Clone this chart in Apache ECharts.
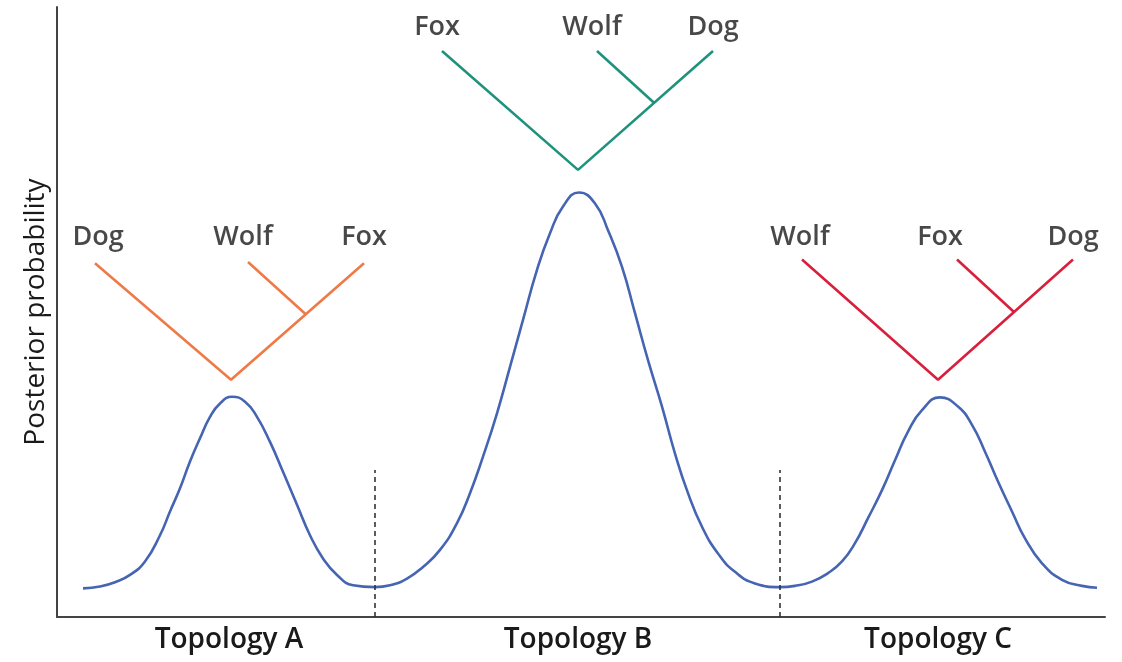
<!DOCTYPE html>
<html><head>
<meta charset="UTF-8">
<title>Posterior probability of topologies</title>
<script src="https://cdn.jsdelivr.net/npm/echarts@6/dist/echarts.min.js"></script>
<style>
html,body{margin:0;padding:0;background:#fff;}
#chart{width:1122px;height:662px;}
</style>
</head>
<body>
<div id="chart"></div>
<script type="text/javascript">
// posterior curve (x: parameter space, y: probability)
var curveX = [0.26, 0.43, 0.58, 0.73, 0.88, 1.03, 1.13, 1.23, 1.33, 1.43, 1.53, 1.63, 1.75, 1.88, 2.00, 2.13, 2.26, 2.40, 2.53, 2.66, 2.80, 2.96,
              3.18, 3.33, 3.50, 3.66, 3.83, 4.00, 4.13, 4.26, 4.40, 4.53, 4.66, 4.80, 4.93, 5.06, 5.22, 5.38, 5.51, 5.65, 5.78, 5.91, 6.05, 6.18, 6.31, 6.45, 6.61, 6.78, 6.98,
              7.23, 7.38, 7.55, 7.71, 7.85, 7.98, 8.11, 8.25, 8.38, 8.51, 8.65, 8.83, 9.01, 9.15, 9.28, 9.41, 9.55, 9.68, 9.85, 10.05, 10.25, 10.40];
var curveY = [0.047, 0.050, 0.057, 0.069, 0.091, 0.134, 0.173, 0.211, 0.255, 0.293, 0.328, 0.350, 0.361, 0.353, 0.328, 0.287, 0.238, 0.184, 0.134, 0.096, 0.069, 0.052,
              0.049, 0.052, 0.063, 0.082, 0.110, 0.154, 0.203, 0.263, 0.334, 0.410, 0.487, 0.569, 0.629, 0.673, 0.696, 0.678, 0.634, 0.574, 0.498, 0.421, 0.345, 0.268, 0.203, 0.148, 0.104, 0.074, 0.055,
              0.049, 0.051, 0.058, 0.072, 0.091, 0.121, 0.162, 0.208, 0.257, 0.304, 0.339, 0.360, 0.345, 0.315, 0.271, 0.222, 0.173, 0.129, 0.088, 0.061, 0.051, 0.048];

// region borders (dashed)
var borderX = [3.18, 7.23];
var borderTop = 0.241;

// x axis labels
var topoNames = ['Topology A', 'Topology B', 'Topology C'];
var topoX = [1.72, 5.21, 8.81];

// trees: [root, inner node, left leaf, middle leaf, right leaf]
var treeA = [[1.74, 0.389], [2.49, 0.496], [0.38, 0.580], [1.91, 0.582], [3.07, 0.580]];
var treeB = [[5.21, 0.733], [5.97, 0.843], [3.85, 0.928], [5.40, 0.928], [6.56, 0.928]];
var treeC = [[8.81, 0.389], [9.57, 0.500], [7.45, 0.586], [9.00, 0.586], [10.16, 0.586]];
var leafA = ['Dog', 'Wolf', 'Fox'];
var leafB = ['Fox', 'Wolf', 'Dog'];
var leafC = ['Wolf', 'Fox', 'Dog'];
var leafLabelX = [[0.41, 1.86, 3.07], [3.80, 5.35, 6.56], [7.43, 8.83, 10.16]];
var leafLabelY = [0.622, 0.967, 0.622];
var treeColors = ['#ef7a48', '#1f927c', '#d8203c'];

var trees = [treeA, treeB, treeC];
var leaves = [leafA, leafB, leafC];

var series = [];
series.push({
    type: 'line', smooth: 0.5, symbol: 'none',
    data: curveX.map(function (x, i) { return [x, curveY[i]]; }),
    lineStyle: {color: '#4565b3', width: 2.6}
});
borderX.forEach(function (x) {
    series.push({
        type: 'line', symbol: 'none',
        data: [[x, 0], [x, borderTop]],
        lineStyle: {color: '#333', width: 1.6, type: [5, 4]}
    });
});
trees.forEach(function (t, k) {
    // left leaf - root - right leaf
    series.push({
        type: 'line', symbol: 'none',
        data: [t[2], t[0], t[4]],
        lineStyle: {color: treeColors[k], width: 2.6}
    });
    // middle leaf - inner node
    series.push({
        type: 'line', symbol: 'none',
        data: [t[3], t[1]],
        lineStyle: {color: treeColors[k], width: 2.6}
    });
    series.push({
        type: 'scatter', symbolSize: 0,
        data: leaves[k].map(function (n, i) { return {name: n, value: [leafLabelX[k][i], leafLabelY[k]]}; }),
        label: {show: true, position: 'inside', formatter: '{b}', color: '#1a1a1a',
                fontFamily: 'Open Sans', fontSize: 27, fontWeight: 600}
    });
});

var chart = echarts.init(document.getElementById('chart'));
chart.setOption({
    animation: false,
    grid: {left: 57, right: 17, top: 7, bottom: 45},
    xAxis: {
        type: 'value', min: 0, max: 10.48,
        axisLine: {lineStyle: {color: '#444', width: 2}},
        axisTick: {show: false},
        splitLine: {show: false},
        axisLabel: {
            customValues: topoX,
            formatter: function (v) {
                var i = topoX.indexOf(v);
                return i >= 0 ? topoNames[i] : '';
            },
            margin: 9, color: '#1a1a1a', fontFamily: 'Open Sans', fontSize: 28, fontWeight: 600
        }
    },
    yAxis: {
        type: 'value', min: 0, max: 1,
        name: 'Posterior probability', nameLocation: 'middle', nameRotate: 90, nameGap: 7,
        nameTextStyle: {color: '#1a1a1a', fontFamily: 'Open Sans', fontSize: 28},
        axisLine: {show: true, lineStyle: {color: '#444', width: 2}},
        axisTick: {show: false},
        axisLabel: {show: false},
        splitLine: {show: false}
    },
    series: series
});
</script>
</body>
</html>
